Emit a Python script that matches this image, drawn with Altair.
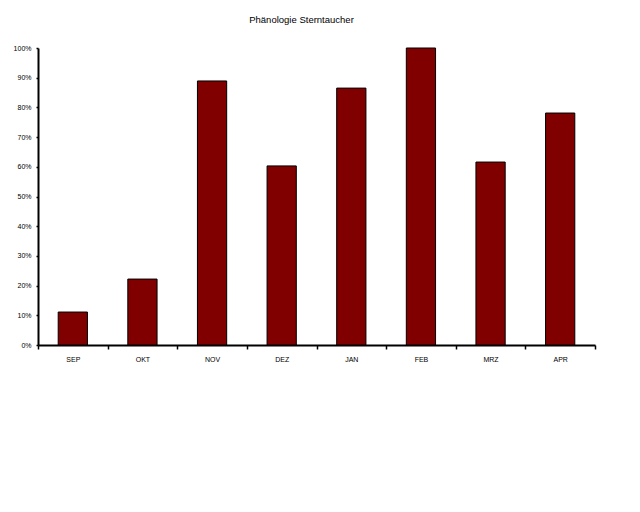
import altair as alt
import pandas as pd

months = ["SEP", "OKT", "NOV", "DEZ", "JAN", "FEB", "MRZ", "APR"]
values = [0.111, 0.222, 0.889, 0.603, 0.865, 1.0, 0.616, 0.781]

df = pd.DataFrame({"Monat": months, "Anteil": values})

chart = alt.Chart(df).mark_bar(
    color="#800000", stroke="black", strokeWidth=1,
    width=alt.RelativeBandSize(0.42)
).encode(
    x=alt.X("Monat:N", sort=months, title=None,
            scale=alt.Scale(paddingInner=0, paddingOuter=0),
            axis=alt.Axis(labelAngle=0, tickBand="extent", tickSize=4,
                          labelFontSize=7, labelFont="Liberation Sans",
                          labelColor="black", domainColor="black", domainWidth=2,
                          tickColor="black", tickWidth=1.5, labelPadding=6)),
    y=alt.Y("Anteil:Q", title=None,
            scale=alt.Scale(domain=[0, 1], nice=False),
            axis=alt.Axis(format=".0%", values=[i / 10 for i in range(11)], grid=False,
                          tickSize=2, labelFontSize=7, labelFont="Liberation Sans",
                          labelColor="black", domainColor="black", domainWidth=2,
                          tickColor="black", tickWidth=1.5, labelPadding=5)),
).properties(
    width=557, height=297,
    title=alt.TitleParams("Phänologie Sterntaucher", fontSize=9.5, font="Liberation Sans",
                          fontWeight="normal", color="black", dx=-15, offset=20),
    autosize=alt.AutoSizeParams(type="none"),
    padding={"left": 30, "top": 40, "right": 20, "bottom": 40},
).configure_view(stroke=None)

chart.save("out.html", embed_options={"renderer": "svg", "actions": False})
